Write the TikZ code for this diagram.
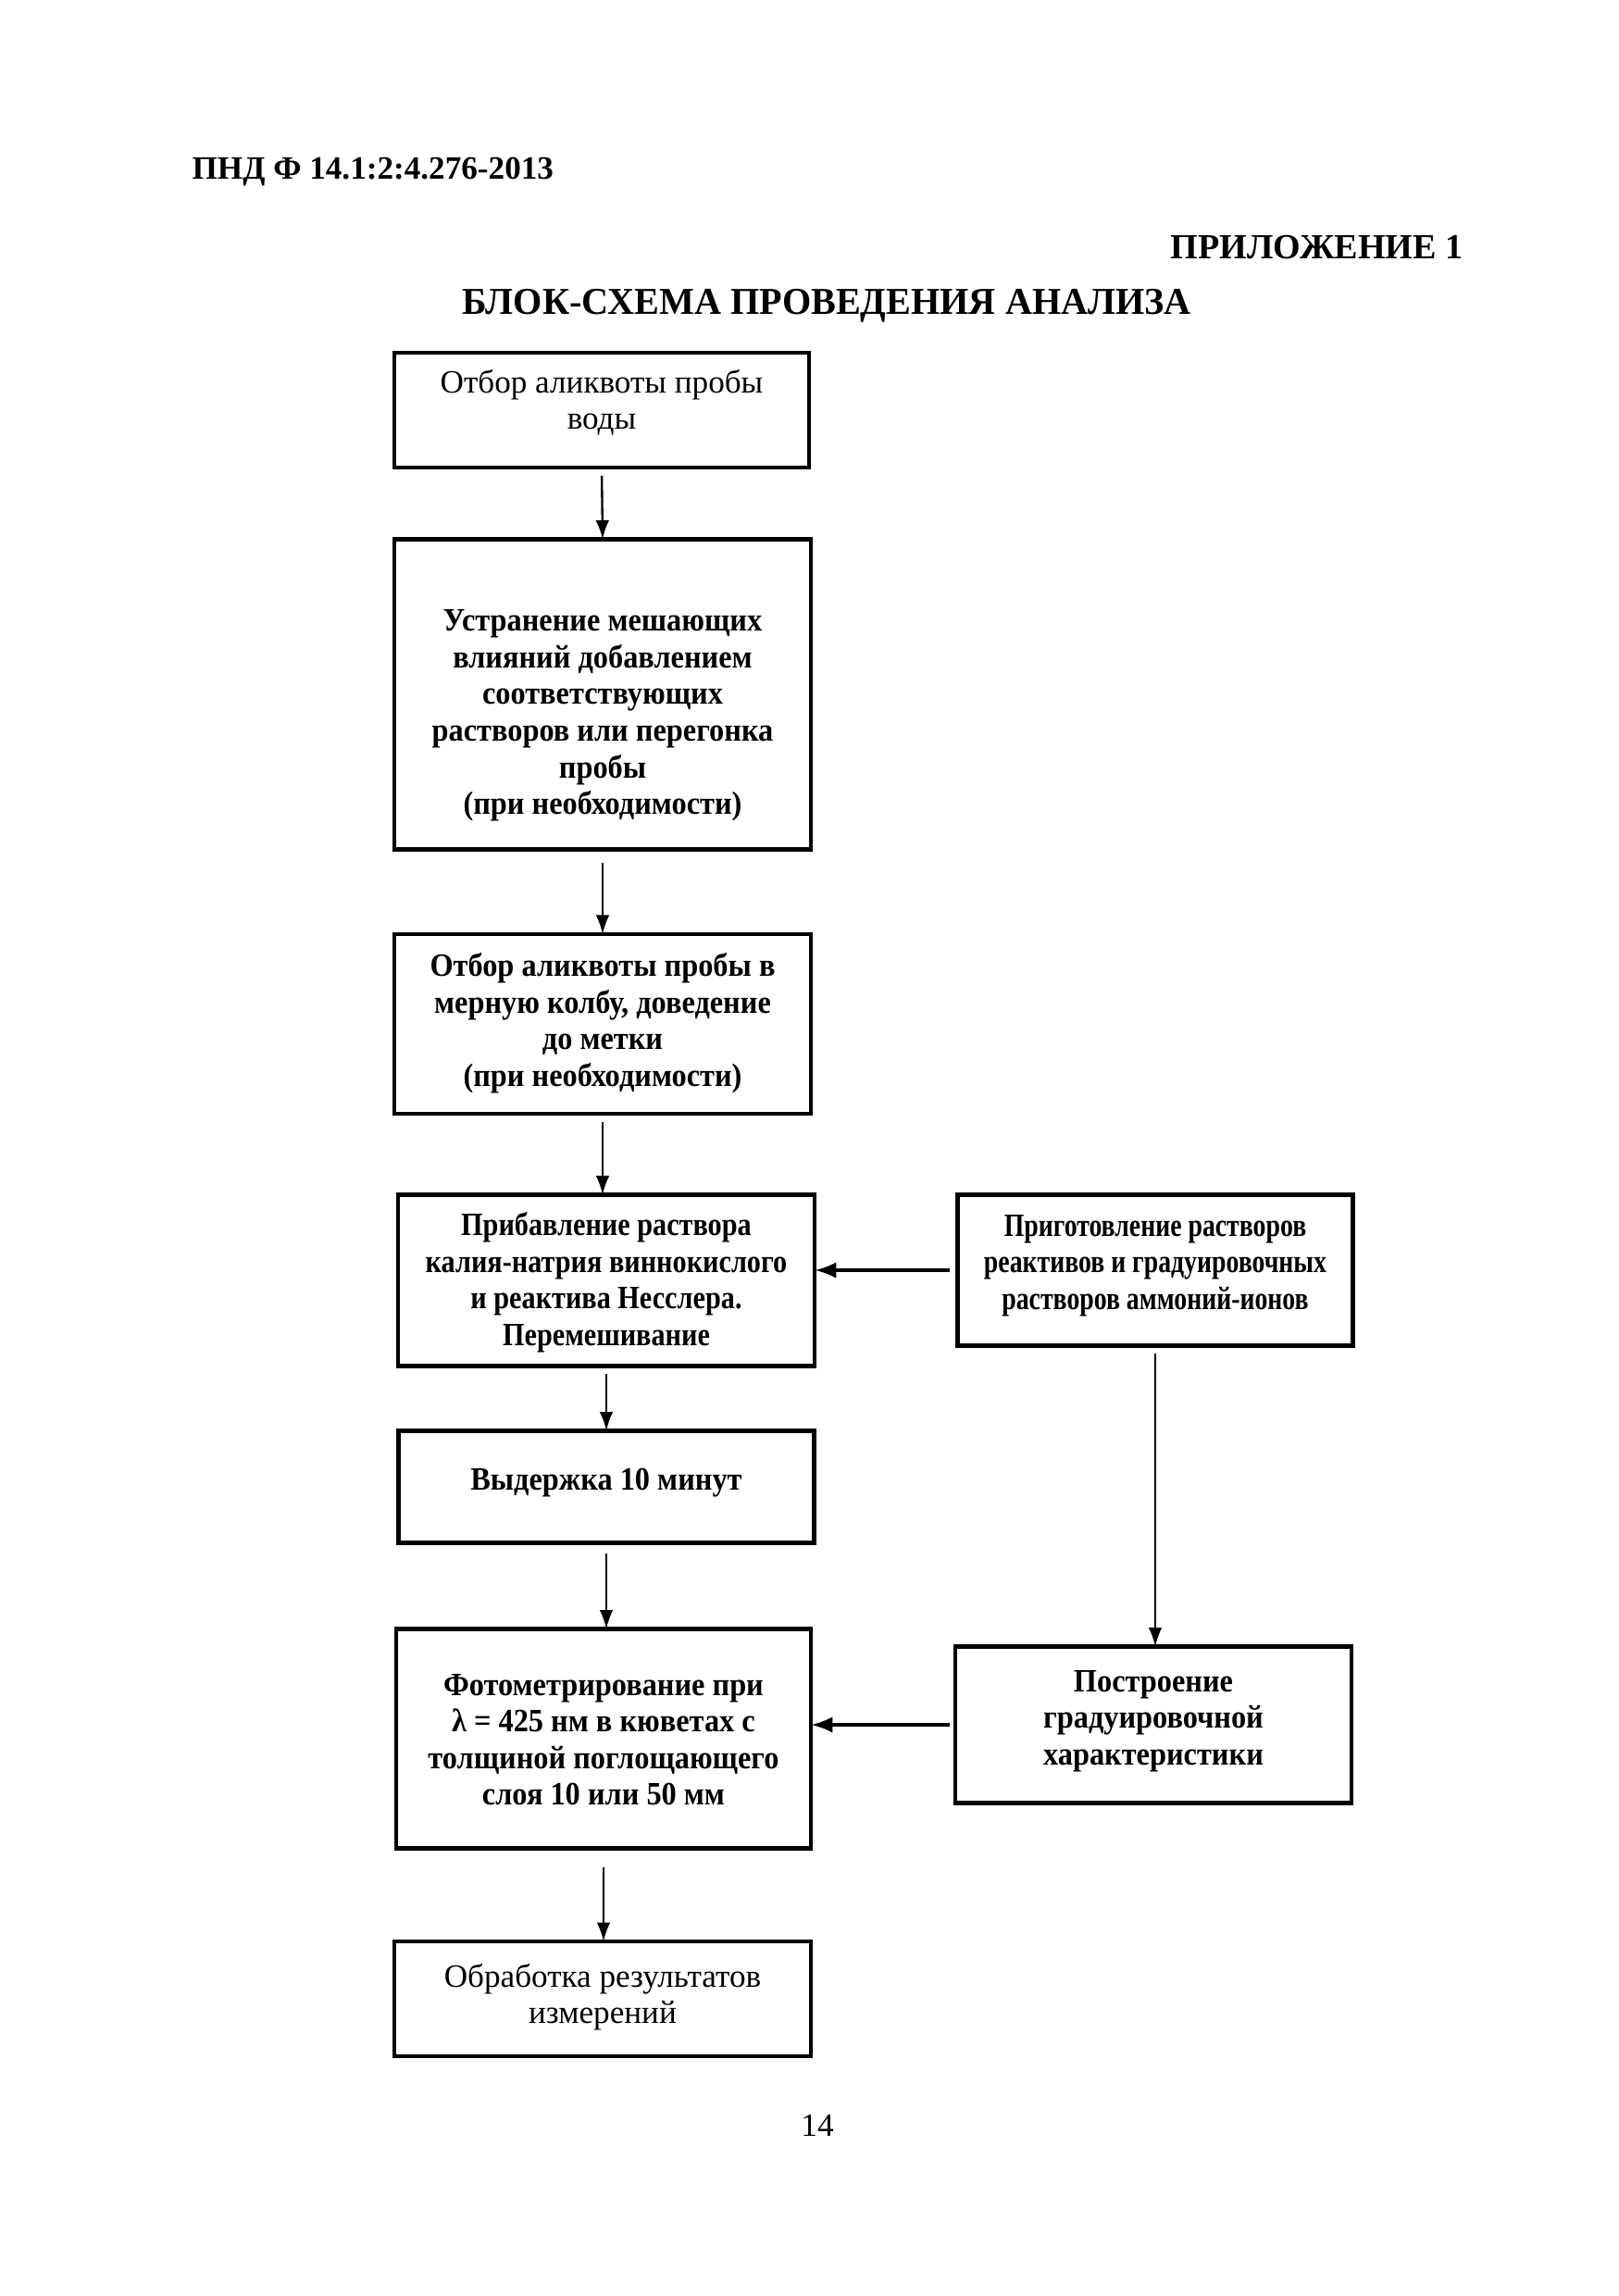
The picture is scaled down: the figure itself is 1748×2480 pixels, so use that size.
\documentclass[tikz,border=0pt]{standalone}
\usepackage{fontspec}
\setmainfont{Liberation Serif}
\newfontfamily\condA[FakeStretch=0.92]{Liberation Serif}
\newfontfamily\condB[FakeStretch=0.86]{Liberation Serif}
\newfontfamily\condC[FakeStretch=0.79]{Liberation Serif}
\newfontfamily\condT[FakeStretch=0.98]{Liberation Serif}
\usetikzlibrary{arrows.meta,calc}
\tikzset{
  box/.style 2 args={draw,line width=1.6pt,inner sep=0pt,outer sep=0pt,
    minimum width=#1*0.012cm,minimum height=#2*0.012cm},
  txt/.style={align=center,inner sep=0pt,font=\fontsize{12}{13.5}\selectfont},
  btxt/.style={txt,font=\fontsize{12}{13.5}\selectfont\condA\bfseries},
  ctxt/.style={txt,font=\fontsize{12}{13.5}\selectfont\condB\bfseries},
  dtxt/.style={txt,font=\fontsize{12}{13.5}\selectfont\condC\bfseries},
  arr/.style={-{Latex[length=7pt,width=5pt]},line width=0.8pt},
  harr/.style={-{Latex[length=8pt,width=6pt]},line width=1.3pt}}
\begin{document}
\begin{tikzpicture}[x=0.012cm,y=-0.012cm]
\useasboundingbox[fill=white] (0,0) rectangle (1748,2480);
% header
\node[anchor=west,inner sep=0pt,font=\fontsize{12}{14}\selectfont\bfseries] (hdr) at (207,186) {ПНД Ф 14.1:2:4.276-2013};
\node[anchor=east,inner sep=0pt,font=\fontsize{13}{15}\selectfont\bfseries] (app) at (1581,267) {ПРИЛОЖЕНИЕ 1};
\node[inner sep=0pt,font=\fontsize{14}{16}\selectfont\condT\bfseries] (ttl) at (893,330) {БЛОК-СХЕМА ПРОВЕДЕНИЯ АНАЛИЗА};
% boxes
\node[box={448}{124}] (b1) at (650,443) {};
\node[txt] (t1) at (650,435) {Отбор аликвоты пробы\\воды};
\node[box={450}{335}] (b2) at (651,750) {};
\node[btxt] (t2) at (651,773) {Устранение мешающих\\влияний добавлением\\соответствующих\\растворов или перегонка\\пробы\\(при необходимости)};
\node[box={450}{194}] (b3) at (651,1106) {};
\node[btxt] (t3) at (651,1105) {Отбор аликвоты пробы в\\мерную колбу, доведение\\до метки\\(при необходимости)};
\node[box={450}{185}] (b4) at (655,1383) {};
\node[ctxt] (t4) at (655,1385) {Прибавление раствора\\калия-натрия виннокислого\\и реактива Несслера.\\Перемешивание};
\node[box={427}{163}] (r1) at (1248,1372) {};
\node[dtxt] (tr1) at (1248,1367) {Приготовление растворов\\реактивов и градуировочных\\растворов аммоний-ионов};
\node[box={449}{121}] (b5) at (655,1606) {};
\node[btxt] (t5) at (655,1602) {Выдержка 10 минут};
\node[box={448}{237}] (b6) at (652,1878) {};
\node[btxt] (t6) at (652,1879) {Фотометрирование при\\λ = 425 нм в кюветах с\\толщиной поглощающего\\слоя 10 или 50 мм};
\node[box={428}{169}] (r2) at (1246,1863) {};
\node[btxt] (tr2) at (1246,1859) {Построение\\градуировочной\\характеристики};
\node[box={450}{124}] (b7) at (651,2159) {};
\node[txt] (t7) at (651,2157) {Обработка результатов\\измерений};
\node[inner sep=0pt,font=\fontsize{12}{14}\selectfont] (pg) at (883,2296) {14};
% arrows
\draw[arr,shorten <=3pt] (b1.south) -- (b2.north);
\draw[arr,shorten <=5pt] (b2.south) -- (b3.north);
\draw[arr,shorten <=3pt] (b3.south) -- (b3.south |- b4.north);
\draw[arr,shorten <=3pt] (b4.south) -- (b4.south |- b5.north);
\draw[arr,shorten <=4pt] (b5.south) -- (b5.south |- b6.north);
\draw[arr,shorten <=7pt] (b6.south) -- (b6.south |- b7.north);
\draw[arr,shorten <=3pt] (r1.south) -- (r1.south |- r2.north);
\draw[harr,shorten <=3pt] (r1.west) -- (r1.west -| b4.east);
\draw[harr,shorten <=2pt] (r2.west) -- (r2.west -| b6.east);
\end{tikzpicture}
\end{document}
